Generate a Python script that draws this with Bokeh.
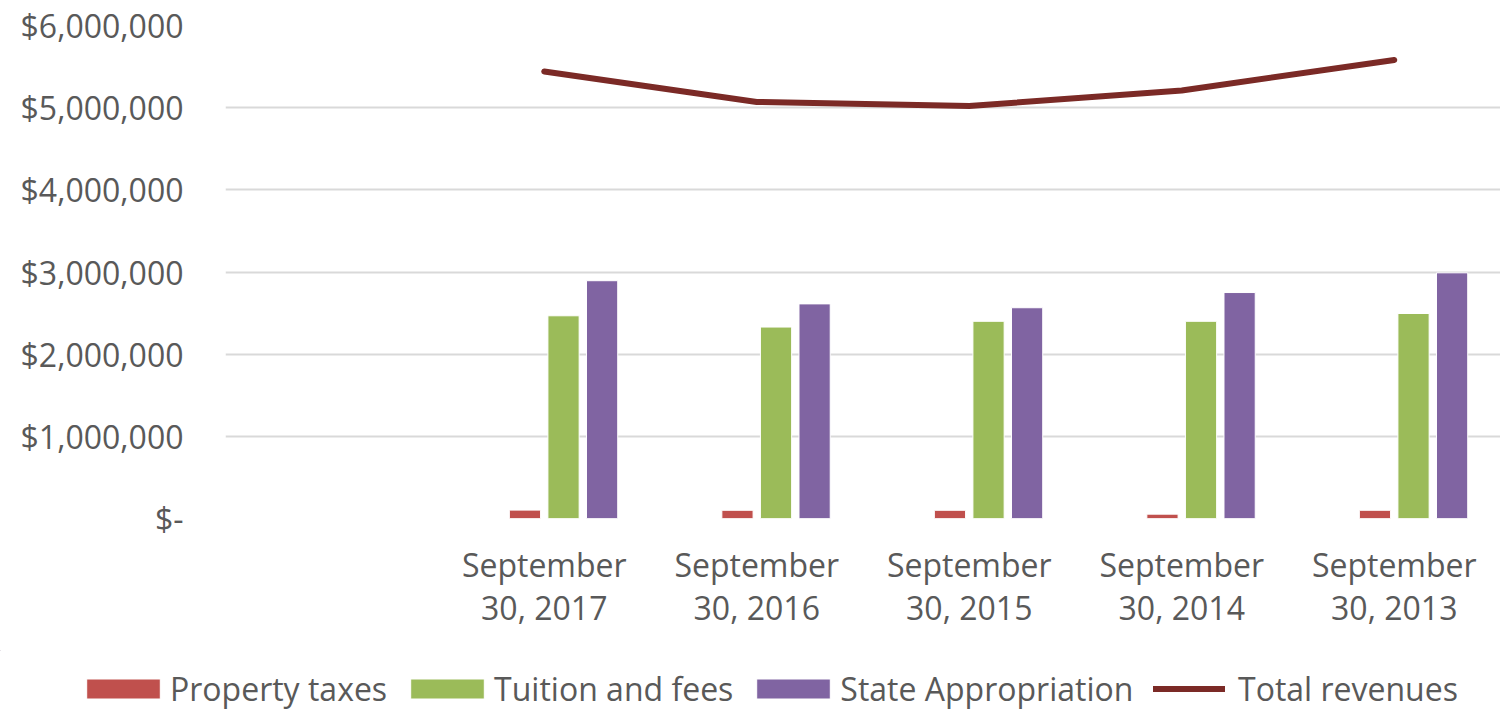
from bokeh.plotting import figure
from bokeh.models import Range1d, FixedTicker, Legend, LegendItem, ColumnDataSource
from bokeh.embed import file_html
from bokeh.resources import INLINE

categories = ["", "September\n30, 2017", "September\n30, 2016", "September\n30, 2015",
              "September\n30, 2014", "September\n30, 2013"]
property_taxes = [None, 102000, 100000, 100000, 53000, 100000]
tuition_fees = [None, 2467000, 2330000, 2400000, 2400000, 2495000]
state_approp = [None, 2894000, 2612000, 2565000, 2750000, 2990000]
total_revenues = [None, 5440000, 5070000, 5020000, 5210000, 5580000]
series_names = ["Property taxes", "Tuition and fees", "State Appropriation", "Total revenues"]
y_ticks = [0, 1000000, 2000000, 3000000, 4000000, 5000000, 6000000]
y_labels = ["$-", "$1,000,000", "$2,000,000", "$3,000,000", "$4,000,000", "$5,000,000", "$6,000,000"]

FONT = "Open Sans"
TXT = "#595959"
FS = "32px"
C_RED, C_GREEN, C_PURPLE, C_LINE = "#C0504D", "#9BBB59", "#8064A2", "#7B2A26"

p = figure(width=1500, height=650, output_backend="svg", toolbar_location=None,
           x_range=Range1d(-0.5, len(categories) - 0.5), y_range=Range1d(0, 6000000),
           min_border_left=225, min_border_right=0, min_border_top=25, min_border_bottom=132)
p.outline_line_color = None
p.background_fill_color = "white"
p.border_fill_color = "white"

idx = [i for i in range(len(categories)) if total_revenues[i] is not None]
slot = 0.1815
bw = 0.147

def src(vals, off):
    return ColumnDataSource(dict(x=[i + off for i in idx], top=[vals[i] for i in idx]))

s1 = src(property_taxes, -0.5 * slot)
s2 = src(tuition_fees, 0.5 * slot)
s3 = src(state_approp, 1.5 * slot)
s4 = src(total_revenues, 0.0)
bar_style = dict(x="x", top="top", width=bw, line_color="white", line_width=1)
line_style = dict(x="x", y="top", line_color=C_LINE, line_width=6, line_cap="round", line_join="round")

p.vbar(source=s1, fill_color=C_RED, **bar_style)
p.vbar(source=s2, fill_color=C_GREEN, **bar_style)
p.vbar(source=s3, fill_color=C_PURPLE, **bar_style)
p.line(source=s4, **line_style)

p.xaxis.ticker = FixedTicker(ticks=list(range(len(categories))))
p.xaxis.major_label_overrides = {i: c for i, c in enumerate(categories)}
p.xaxis.axis_line_color = None
p.xaxis.major_tick_line_color = None
p.xaxis.minor_tick_line_color = None
p.xaxis.major_tick_out = 0
p.xaxis.major_label_standoff = 24
p.xaxis.major_label_text_font = FONT
p.xaxis.major_label_text_font_size = FS
p.xaxis.major_label_text_color = TXT
p.xaxis.major_label_text_line_height = 1.0
p.xgrid.grid_line_color = None

p.yaxis.ticker = FixedTicker(ticks=y_ticks)
p.yaxis.major_label_overrides = {t: l for t, l in zip(y_ticks, y_labels)}
p.yaxis.axis_line_color = None
p.yaxis.major_tick_line_color = None
p.yaxis.minor_tick_line_color = None
p.yaxis.major_tick_out = 0
p.yaxis.major_label_standoff = 42
p.yaxis.major_label_text_font = FONT
p.yaxis.major_label_text_font_size = FS
p.yaxis.major_label_text_color = TXT
p.ygrid.grid_line_color = "#D9D9D9"
p.ygrid.grid_line_width = 2
p.ygrid.ticker = FixedTicker(ticks=y_ticks)

# legend strip below the chart (shares the data; its view range shows none of the marks)
lg = figure(width=1500, height=60, output_backend="svg", toolbar_location=None,
            x_range=Range1d(100, 101), y_range=Range1d(-2, -1), x_axis_type=None, y_axis_type=None,
            min_border=0, min_border_left=0, min_border_right=0, min_border_top=0, min_border_bottom=0)
lg.outline_line_color = None
lg.grid.visible = False
l1 = lg.vbar(source=s1, fill_color=C_RED, **bar_style)
l2 = lg.vbar(source=s2, fill_color=C_GREEN, **bar_style)
l3 = lg.vbar(source=s3, fill_color=C_PURPLE, **bar_style)
l4 = lg.line(source=s4, **line_style)

common = dict(orientation="horizontal", padding=0, margin=0, border_line_color=None,
              background_fill_alpha=0, label_text_font=FONT, label_text_font_size=FS,
              label_text_color=TXT)
legend_bars = Legend(items=[LegendItem(label=n, renderers=[r])
                            for n, r in zip(series_names[:3], [l1, l2, l3])],
                     location=(77, 0), glyph_width=92, glyph_height=25, label_standoff=1,
                     spacing=14, **common)
legend_line = Legend(items=[LegendItem(label=series_names[3], renderers=[l4])],
                     location=(1153, 0), glyph_width=72, glyph_height=25, label_standoff=13,
                     **common)
lg.add_layout(legend_bars, "center")
lg.add_layout(legend_line, "center")

open("out.html", "w").write(file_html([p, lg], INLINE))
